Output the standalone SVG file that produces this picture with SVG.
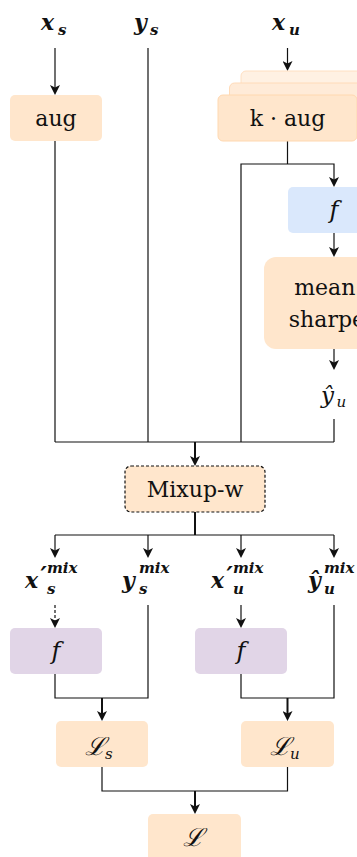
<svg xmlns="http://www.w3.org/2000/svg" width="357" height="857" viewBox="0 0 357 857">
<style>
.ln{fill:none;stroke:#111;stroke-width:1.2}
.th{fill:none;stroke:#111;stroke-width:2}
.ds{fill:none;stroke:#111;stroke-width:1.2;stroke-dasharray:3 2}
.or{fill:#FFE6CC}
.bl{fill:#DAE8FC}
.pu{fill:#E1D5E7}
text{font-family:'DejaVu Serif',serif;fill:#111}
.t{font-size:22px}
.m{font-style:italic;font-weight:bold}
.mi{font-style:italic}
</style>
<defs>
<marker id="ah" markerWidth="10" markerHeight="10" refX="7" refY="5" orient="auto" markerUnits="userSpaceOnUse" viewBox="0 0 10 10">
<path d="M0,0 L10,5 L0,10 L2.5,5 Z" fill="#111"/>
</marker>
</defs>

<g id="connectors">
<path class="ln" d="M55,48 V92" marker-end="url(#ah)"/>
<path class="ln" d="M148,48 V442"/>
<path class="ln" d="M287.5,48 V68" marker-end="url(#ah)"/>
<path class="ln" d="M55,141 V442"/>
<path class="ln" d="M287.5,141 V164"/>
<path class="ln" d="M241,442 V164 H334 V184" marker-end="url(#ah)"/>
<path class="ln" d="M334,233 V254" marker-end="url(#ah)"/>
<path class="ln" d="M334,349 V367" marker-end="url(#ah)"/>
<path class="ln" d="M334,419 V442"/>
<path class="ln" d="M55,442 H334"/>
<path class="th" d="M195,442 V463" marker-end="url(#ah)"/>
<path class="th" d="M195,512 V535"/>
<path class="ln" d="M55,535 H334"/>
<path class="ln" d="M55,535 V555" marker-end="url(#ah)"/>
<path class="ln" d="M148,535 V555" marker-end="url(#ah)"/>
<path class="ln" d="M241,535 V555" marker-end="url(#ah)"/>
<path class="ln" d="M334,535 V555" marker-end="url(#ah)"/>
<path class="ds" d="M55,605 V625" marker-end="url(#ah)"/>
<path class="ln" d="M241,605 V625" marker-end="url(#ah)"/>
<path class="ln" d="M55,674 V698 H148 V605"/>
<path class="ln" d="M241,674 V698 H334 V605"/>
<path class="th" d="M102,698 V718" marker-end="url(#ah)"/>
<path class="th" d="M287.5,698 V718" marker-end="url(#ah)"/>
<path class="ln" d="M102,767 V791 H287.5 V767"/>
<path class="th" d="M195,791 V811" marker-end="url(#ah)"/>
</g>

<g id="lbl_xs"><text class="m" font-size="22" x="41" y="30">x</text><text class="m" font-size="15" x="58" y="35">s</text></g>
<g id="lbl_ys"><text class="m" font-size="22" x="134" y="30">y</text><text class="m" font-size="15" x="150" y="35">s</text></g>
<g id="lbl_xu"><text class="m" font-size="22" x="272" y="30">x</text><text class="m" font-size="15" x="289" y="35">u</text></g>

<g id="aug"><rect class="or" x="10" y="95" width="92" height="46" rx="5"/><text class="t" x="56" y="126" text-anchor="middle">aug</text></g>

<g id="kaug">
<rect x="241" y="71" width="139" height="46" rx="5" fill="#FFF1E3" stroke="#FFE0C2" stroke-width="1"/>
<rect x="229.5" y="83" width="139" height="46" rx="5" fill="#FFEBD8" stroke="#FFDBB8" stroke-width="1"/>
<rect x="218" y="95" width="139" height="46" rx="5" fill="#FFE6CC" stroke="#FFD8B0" stroke-width="1"/>
<text class="t" x="287.5" y="126" text-anchor="middle">k · aug</text>
</g>

<g id="f_teacher"><rect class="bl" x="288" y="187" width="92" height="46" rx="5"/><text class="mi" font-size="24" x="334" y="218" text-anchor="middle">f</text></g>

<g id="mean_sharpen"><rect class="or" x="264" y="257" width="140" height="92" rx="12"/><text class="t" x="334" y="295" text-anchor="middle">mean+</text><text class="t" x="334" y="327" text-anchor="middle">sharpen</text></g>

<g id="lbl_yhat"><text class="mi" font-size="23" x="321" y="403">ŷ</text><text class="mi" font-size="15" x="336.5" y="407">u</text></g>

<g id="mixup"><rect class="or" x="125" y="466" width="140" height="46" rx="6" stroke="#111" stroke-width="1.2" stroke-dasharray="3 2"/><text class="t" x="195" y="497" text-anchor="middle">Mixup-w</text></g>

<g id="lbl_xs_mix"><text class="m" font-size="22" x="25" y="588">x</text><text class="m" font-size="24" x="40.5" y="584">′</text><text class="m" font-size="15" x="47" y="573">mix</text><text class="m" font-size="15" x="47" y="594">s</text></g>
<g id="lbl_ys_mix"><text class="m" font-size="22" x="122" y="588">y</text><text class="m" font-size="15" x="139" y="573">mix</text><text class="m" font-size="15" x="139" y="594">s</text></g>
<g id="lbl_xu_mix"><text class="m" font-size="22" x="211" y="588">x</text><text class="m" font-size="24" x="226.5" y="584">′</text><text class="m" font-size="15" x="233" y="573">mix</text><text class="m" font-size="15" x="233" y="594">u</text></g>
<g id="lbl_yu_mix"><text class="m" font-size="22" x="308" y="588">ŷ</text><text class="m" font-size="15" x="324" y="573">mix</text><text class="m" font-size="15" x="324" y="594">u</text></g>

<g id="f_s"><rect class="pu" x="10" y="628" width="92" height="46" rx="5"/><text class="mi" font-size="24" x="56" y="659" text-anchor="middle">f</text></g>
<g id="f_u"><rect class="pu" x="195" y="628" width="92" height="46" rx="5"/><text class="mi" font-size="24" x="241" y="659" text-anchor="middle">f</text></g>

<g id="Ls"><rect class="or" x="56" y="721" width="92" height="46" rx="5"/><text class="mi" font-size="25" x="85" y="755">ℒ</text><text class="mi" font-size="15" x="105" y="759">s</text></g>
<g id="Lu"><rect class="or" x="241" y="721" width="93" height="46" rx="5"/><text class="mi" font-size="25" x="270" y="755">ℒ</text><text class="mi" font-size="15" x="290" y="759">u</text></g>
<g id="L"><rect class="or" x="148" y="814" width="93" height="50" rx="5"/><text class="mi" font-size="25" x="183" y="846">ℒ</text></g>
</svg>
